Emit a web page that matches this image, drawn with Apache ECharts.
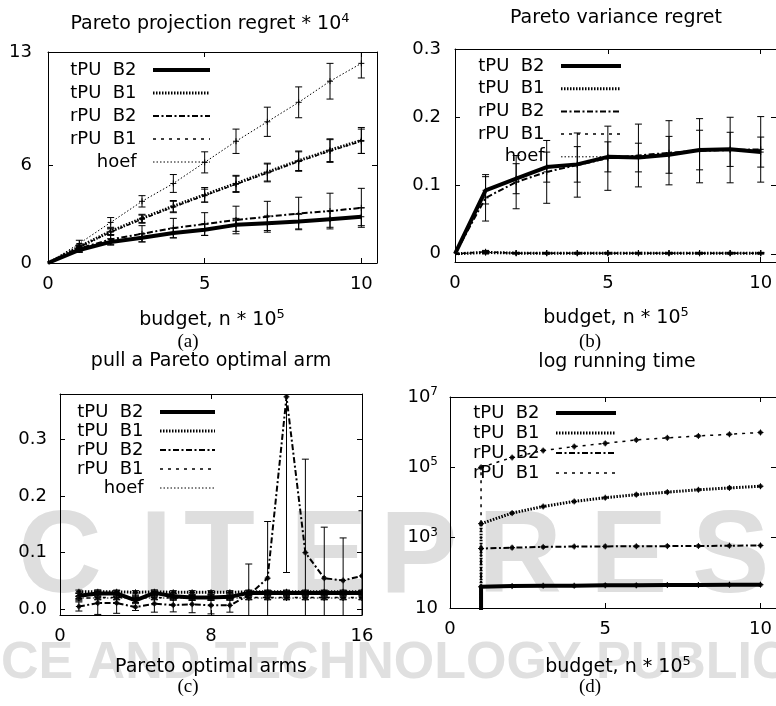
<!DOCTYPE html>
<html>
<head>
<meta charset="utf-8">
<script src="https://cdn.jsdelivr.net/npm/echarts@6/dist/echarts.min.js"></script>
<style>
  html, body { margin: 0; padding: 0; background: #fff; }
  #chart { width: 776px; height: 706px; }
</style>
</head>
<body>
<div id="chart"></div>
<script>
// ---- data ----
const names = ['tPU  B2', 'tPU  B1', 'rPU  B2', 'rPU  B1', 'hoef'];

// (a) Pareto projection regret * 10^4 vs budget
const budget = [0, 1, 2, 3, 4, 5, 6, 7, 8, 9, 10];
const regretTB2 = [0, 0.8, 1.3, 1.55, 1.85, 2.05, 2.35, 2.45, 2.55, 2.7, 2.85];
const regretTB2Err = [0, 0.15, 0.2, 0.25, 0.3, 0.35, 0.4, 0.45, 0.45, 0.5, 0.55];
const regretTB1 = [0, 1.0, 1.95, 2.75, 3.5, 4.2, 4.9, 5.6, 6.3, 6.95, 7.55];
const regretTB1Err = [0, 0.1, 0.2, 0.25, 0.35, 0.45, 0.5, 0.55, 0.6, 0.7, 0.8];
const regretRB2 = [0, 0.9, 1.45, 1.8, 2.15, 2.4, 2.65, 2.85, 3.05, 3.2, 3.4];
const regretRB2Err = [0, 0.2, 0.3, 0.5, 0.6, 0.7, 0.85, 0.95, 1.0, 1.1, 1.2];
const regretRB1 = [0, 1.0, 1.9, 2.7, 3.45, 4.15, 4.85, 5.55, 6.25, 6.9, 7.5];
const regretRB1Err = [0, 0.1, 0.2, 0.25, 0.35, 0.4, 0.5, 0.55, 0.6, 0.7, 0.75];
const regretHoef = [0, 1.2, 2.5, 3.8, 4.9, 6.2, 7.5, 8.7, 9.9, 11.2, 12.3];
const regretHoefErr = [0, 0.2, 0.3, 0.35, 0.55, 0.65, 0.75, 0.9, 0.95, 1.1, 0.9];

// (b) Pareto variance regret vs budget
const varTB2 = [0, 0.093, 0.11, 0.127, 0.131, 0.142, 0.141, 0.145, 0.152, 0.153, 0.149];
const varTB2Err = [0, 0.02, 0.022, 0.022, 0.026, 0.022, 0.021, 0.027, 0.029, 0.025, 0.022];
const varTB1 = [0, 0.002, 0.001, 0.001, 0.001, 0.001, 0.001, 0.001, 0.001, 0.001, 0.001];
const varRB2 = [0, 0.082, 0.105, 0.12, 0.13, 0.14, 0.144, 0.148, 0.151, 0.152, 0.153];
const varRB2Err = [0, 0.034, 0.039, 0.046, 0.047, 0.047, 0.046, 0.047, 0.047, 0.048, 0.048];
const varRB1 = [0, 0.003, 0.001, 0.001, 0.001, 0.001, 0.001, 0.001, 0.001, 0.001, 0.001];
const varHoef = [0, 0.002, 0.001, 0.001, 0.001, 0.001, 0.001, 0.001, 0.001, 0.001, 0.001];
const varFlatErr = [0, 0.002, 0.001, 0.001, 0.001, 0.001, 0.001, 0.001, 0.001, 0.001, 0.001];

// (c) pull a Pareto optimal arm
const arms = [1, 2, 3, 4, 5, 6, 7, 8, 9, 10, 11, 12, 13, 14, 15, 16];
const pullTB2 = [0.024, 0.028, 0.028, 0.016, 0.029, 0.023, 0.021, 0.021, 0.022, 0.029, 0.029, 0.029, 0.029, 0.029, 0.029, 0.029];
const pullTB2Err = [0.005, 0.006, 0.005, 0.004, 0.005, 0.005, 0.005, 0.005, 0.005, 0.004, 0.004, 0.004, 0.004, 0.004, 0.004, 0.004];
const pullTB1 = [0.031, 0.031, 0.031, 0.03, 0.031, 0.03, 0.03, 0.03, 0.03, 0.031, 0.031, 0.031, 0.031, 0.031, 0.031, 0.031];
const pullTB1Err = [0.003, 0.003, 0.003, 0.003, 0.003, 0.003, 0.003, 0.003, 0.003, 0.003, 0.003, 0.003, 0.003, 0.003, 0.003, 0.003];
const pullRB2 = [0.005, 0.011, 0.011, 0.004, 0.01, 0.0075, 0.009, 0.007, 0.007, 0.025, 0.055, 0.375, 0.1, 0.055, 0.051, 0.059];
const pullRB2Err = [0.008, 0.02, 0.018, 0.006, 0.015, 0.012, 0.015, 0.015, 0.012, 0.055, 0.1, 0.31, 0.165, 0.09, 0.075, 0.115];
const pullRB1 = [0.019, 0.021, 0.021, 0.02, 0.021, 0.02, 0.02, 0.02, 0.02, 0.021, 0.021, 0.021, 0.021, 0.021, 0.021, 0.021];
const pullRB1Err = [0.004, 0.004, 0.004, 0.004, 0.004, 0.004, 0.004, 0.004, 0.004, 0.004, 0.004, 0.004, 0.004, 0.004, 0.004, 0.004];
const pullHoef = [0.02, 0.02, 0.02, 0.02, 0.02, 0.02, 0.02, 0.02, 0.02, 0.02, 0.02, 0.02, 0.02, 0.02, 0.02, 0.02];
const pullHoefErr = [0.003, 0.003, 0.003, 0.003, 0.003, 0.003, 0.003, 0.003, 0.003, 0.003, 0.003, 0.003, 0.003, 0.003, 0.003, 0.003];

// (d) log running time (first entry at budget 1 drops below the axis)
const timeBudget = [1, 1, 2, 3, 4, 5, 6, 7, 8, 9, 10];
const timeTB2 = [1, 40, 42, 43, 43, 44, 44, 45, 45, 46, 46];
const timeTB1 = [1, 2500, 5000, 7700, 10700, 13700, 16700, 19700, 23000, 26000, 29000];
const timeRB2 = [1, 490, 520, 545, 560, 565, 570, 575, 580, 590, 600];
const timeRB1 = [1, 100000, 190000, 300000, 390000, 480000, 600000, 690000, 780000, 870000, 980000];

// ---- styling ----
const FONT = 'DejaVu Sans';
const lineStyles = {
  'tPU  B2': { width: 4, type: 'solid' },
  'tPU  B1': { width: 3, type: [1.5, 1.5] },
  'rPU  B2': { width: 2, type: [6, 2.5, 2, 2.5] },
  'rPU  B1': { width: 1.5, type: [3, 5] },
  'hoef': { width: 1, type: [1.5, 2] }
};

function lineSeries(name, g, xs, ys) {
  return {
    name: name, type: 'line', xAxisIndex: g * 2, yAxisIndex: g * 2,
    data: xs.map((x, i) => [x, ys[i]]),
    symbol: 'none', clip: true, silent: true,
    itemStyle: { color: '#000' },
    lineStyle: Object.assign({ color: '#000' }, lineStyles[name])
  };
}

function errSeries(g, xs, ys, es, dot) {
  return {
    name: 'err' + g, type: 'custom', xAxisIndex: g * 2, yAxisIndex: g * 2,
    data: xs.map((x, i) => [x, ys[i], es ? es[i] : 0]),
    clip: true, silent: true,
    renderItem: function (params, api) {
      const x = api.value(0), y = api.value(1), e = api.value(2);
      const c = api.coord([x, y]);
      const st = { stroke: '#000', lineWidth: 1 };
      const kids = [];
      if (e > 0) {
        const t = api.coord([x, y + e]), b = api.coord([x, y - e]);
        kids.push({ type: 'line', shape: { x1: c[0], y1: t[1], x2: c[0], y2: b[1] }, style: st });
        kids.push({ type: 'line', shape: { x1: c[0] - 3.5, y1: t[1], x2: c[0] + 3.5, y2: t[1] }, style: st });
        kids.push({ type: 'line', shape: { x1: c[0] - 3.5, y1: b[1], x2: c[0] + 3.5, y2: b[1] }, style: st });
      }
      if (dot) {
        kids.push({ type: 'circle', shape: { cx: c[0], cy: c[1], r: 2.3 }, style: { fill: '#222' } });
      }
      kids.push({ type: 'line', shape: { x1: c[0] - 3, y1: c[1], x2: c[0] + 3, y2: c[1] }, style: st });
      kids.push({ type: 'line', shape: { x1: c[0], y1: c[1] - 3, x2: c[0], y2: c[1] + 3 }, style: st });
      return { type: 'group', children: kids };
    }
  };
}

function axesFor(g, xr, xt, yr, yt, yfmt, ylabMargin, yrich) {
  const black = { color: '#000', width: 1 };
  const xs = [
    { gridIndex: g, type: 'value', min: xr[0], max: xr[1], position: 'bottom',
      axisLine: { show: true, onZero: false, lineStyle: black },
      axisTick: { inside: true, length: 5, customValues: xt, lineStyle: black },
      axisLabel: { customValues: xt, color: '#000', fontFamily: FONT, fontSize: 18, margin: 12 },
      splitLine: { show: false } },
    { gridIndex: g, type: 'value', min: xr[0], max: xr[1], position: 'top',
      axisLine: { show: true, onZero: false, lineStyle: black },
      axisTick: { inside: true, length: 5, customValues: xt, lineStyle: black },
      axisLabel: { show: false }, splitLine: { show: false } }
  ];
  const ys = [
    { gridIndex: g, type: 'value', min: yr[0], max: yr[1], position: 'left',
      axisLine: { show: true, onZero: false, lineStyle: black },
      axisTick: { inside: true, length: 5, customValues: yt, lineStyle: black },
      axisLabel: { customValues: yt, color: '#000', fontFamily: FONT, fontSize: 18,
        margin: ylabMargin, formatter: yfmt, rich: yrich },
      splitLine: { show: false } },
    { gridIndex: g, type: 'value', min: yr[0], max: yr[1], position: 'right',
      axisLine: { show: true, onZero: false, lineStyle: black },
      axisTick: { inside: true, length: 5, customValues: yt, lineStyle: black },
      axisLabel: { show: false }, splitLine: { show: false } }
  ];
  return { xs: xs, ys: ys };
}

function legendFor(list, right, top, iw, gap) {
  return {
    orient: 'vertical', right: right, top: top, padding: 0, align: 'right',
    itemWidth: iw, itemHeight: 10, itemGap: gap, selectedMode: false,
    formatter: n => n + '  ',
    textStyle: { fontFamily: FONT, fontSize: 18, color: '#000', lineHeight: 18 },
    data: list.map(n => ({ name: n,
      itemStyle: { opacity: 0, borderWidth: 0 },
      lineStyle: Object.assign({ color: '#000' }, lineStyles[n]) }))
  };
}

const supRich = {
  b: { fontFamily: FONT, fontSize: 19, color: '#000', lineHeight: 24 },
  s: { fontFamily: FONT, fontSize: 13, color: '#000', lineHeight: 11, verticalAlign: 'top' }
};
const tickRich = {
  b: { fontFamily: FONT, fontSize: 18, color: '#000', lineHeight: 22 },
  s: { fontFamily: FONT, fontSize: 12, color: '#000', lineHeight: 10, verticalAlign: 'top' }
};

const aAx = axesFor(0, [0, 10.5], [0, 5, 10], [0, 13], [0, 6, 13], null, 16);
const bAx = axesFor(1, [0, 10.5], [0, 5, 10], [-0.012, 0.3], [0, 0.1, 0.2, 0.3], null, 14);
const cAx = axesFor(2, [0, 16], [0, 8, 16], [-0.01, 0.38], [0, 0.1, 0.2, 0.3], v => v.toFixed(1), 13);
const dAx = axesFor(3, [0, 10.5], [0, 5, 10], [1, 7], [1, 3, 5, 7],
  v => (v === 1 ? '{b|10}' : '{b|10}{s|' + v + '}'), 12, tickRich);

const lg = v => Math.log10(v);

const series = [
  // (a)
  lineSeries('tPU  B2', 0, budget, regretTB2), errSeries(0, budget, regretTB2, regretTB2Err),
  lineSeries('tPU  B1', 0, budget, regretTB1), errSeries(0, budget, regretTB1, regretTB1Err),
  lineSeries('rPU  B2', 0, budget, regretRB2), errSeries(0, budget, regretRB2, regretRB2Err),
  lineSeries('rPU  B1', 0, budget, regretRB1), errSeries(0, budget, regretRB1, regretRB1Err),
  lineSeries('hoef', 0, budget, regretHoef), errSeries(0, budget, regretHoef, regretHoefErr),
  // (b)
  lineSeries('tPU  B2', 1, budget, varTB2), errSeries(1, budget, varTB2, varTB2Err),
  lineSeries('tPU  B1', 1, budget, varTB1), errSeries(1, budget, varTB1, varFlatErr),
  lineSeries('rPU  B2', 1, budget, varRB2), errSeries(1, budget, varRB2, varRB2Err),
  lineSeries('rPU  B1', 1, budget, varRB1), errSeries(1, budget, varRB1, varFlatErr),
  lineSeries('hoef', 1, budget, varHoef), errSeries(1, budget, varHoef, varFlatErr),
  // (c)
  lineSeries('tPU  B2', 2, arms, pullTB2), errSeries(2, arms, pullTB2, pullTB2Err, true),
  lineSeries('tPU  B1', 2, arms, pullTB1), errSeries(2, arms, pullTB1, pullTB1Err, true),
  lineSeries('rPU  B2', 2, arms, pullRB2), errSeries(2, arms, pullRB2, pullRB2Err, true),
  lineSeries('rPU  B1', 2, arms, pullRB1), errSeries(2, arms, pullRB1, pullRB1Err, true),
  lineSeries('hoef', 2, arms, pullHoef), errSeries(2, arms, pullHoef, pullHoefErr, true),
  // (d) plotted on log10 of the running time
  lineSeries('tPU  B2', 3, timeBudget, timeTB2.map(lg)), errSeries(3, timeBudget.slice(1), timeTB2.slice(1).map(lg), null, true),
  lineSeries('tPU  B1', 3, timeBudget, timeTB1.map(lg)), errSeries(3, timeBudget.slice(1), timeTB1.slice(1).map(lg), null, true),
  lineSeries('rPU  B2', 3, timeBudget, timeRB2.map(lg)), errSeries(3, timeBudget.slice(1), timeRB2.slice(1).map(lg), null, true),
  lineSeries('rPU  B1', 3, timeBudget, timeRB1.map(lg)), errSeries(3, timeBudget.slice(1), timeRB1.slice(1).map(lg), null, true)
];

function txt(x, y, text, rich, serif) {
  return {
    type: 'text', x: x, y: y, silent: true,
    style: {
      text: text, rich: rich,
      font: serif ? '19px "Liberation Serif"' : '19px "' + FONT + '"',
      fill: '#000', align: 'center', verticalAlign: 'middle'
    }
  };
}

// faint publisher watermark behind the lower panels
const markLetters = ['S', 'C', 'I', 'T', 'E', 'P', 'R', 'E', 'S', 'S'];
const markLeft = [-78, 18, 140, 184, 290, 380, 478, 590, 692, 796];
function mark(ch, x) {
  return { type: 'text', x: x, y: 560, z: -10, silent: true,
    style: { text: ch, font: 'bold 116px "Liberation Sans"', fill: '#dedede',
      align: 'left', verticalAlign: 'middle' } };
}

const chart = echarts.init(document.getElementById('chart'), null, { renderer: 'canvas' });
chart.setOption({
  animation: false,
  backgroundColor: '#fff',
  grid: [
    { left: 48, top: 52, width: 329, height: 211 },
    { left: 455, top: 49, width: 322, height: 213 },
    { left: 60, top: 394, width: 302, height: 221 },
    { left: 450, top: 397, width: 336, height: 211 }
  ],
  xAxis: [].concat(aAx.xs, bAx.xs, cAx.xs, dAx.xs),
  yAxis: [].concat(aAx.ys, bAx.ys, cAx.ys, dAx.ys),
  legend: [
    legendFor(names, 564, 61, 57, 5),
    legendFor(names, 153, 57, 60, 4.7),
    legendFor(names, 559, 403, 55, 1),
    legendFor(names.slice(0, 4), 158, 404, 60, 2)
  ],
  series: series,
  graphic: markLetters.map((ch, i) => mark(ch, markLeft[i])).concat([
    { type: 'text', x: -158, y: 664, z: -10, silent: true,
      style: { text: 'SCIENCE AND TECHNOLOGY PUBLICATIONS', font: 'bold 52px "Liberation Sans"',
        fill: '#e0e0e0', align: 'left', verticalAlign: 'middle' } },
    txt(210, 24, '{b|Pareto projection regret * 10}{s|4}', supRich),
    txt(212, 320, '{b|budget, n * 10}{s|5}', supRich),
    txt(188, 342, '(a)', null, true),
    txt(616, 18, 'Pareto variance regret'),
    txt(616, 318, '{b|budget, n * 10}{s|5}', supRich),
    txt(590, 342, '(b)', null, true),
    txt(211, 361, 'pull a Pareto optimal arm'),
    txt(211, 667, 'Pareto optimal arms'),
    txt(188, 687, '(c)', null, true),
    txt(617, 362, 'log running time'),
    txt(618, 667, '{b|budget, n * 10}{s|5}', supRich),
    txt(590, 687, '(d)', null, true)
  ])
});
</script>
</body>
</html>
